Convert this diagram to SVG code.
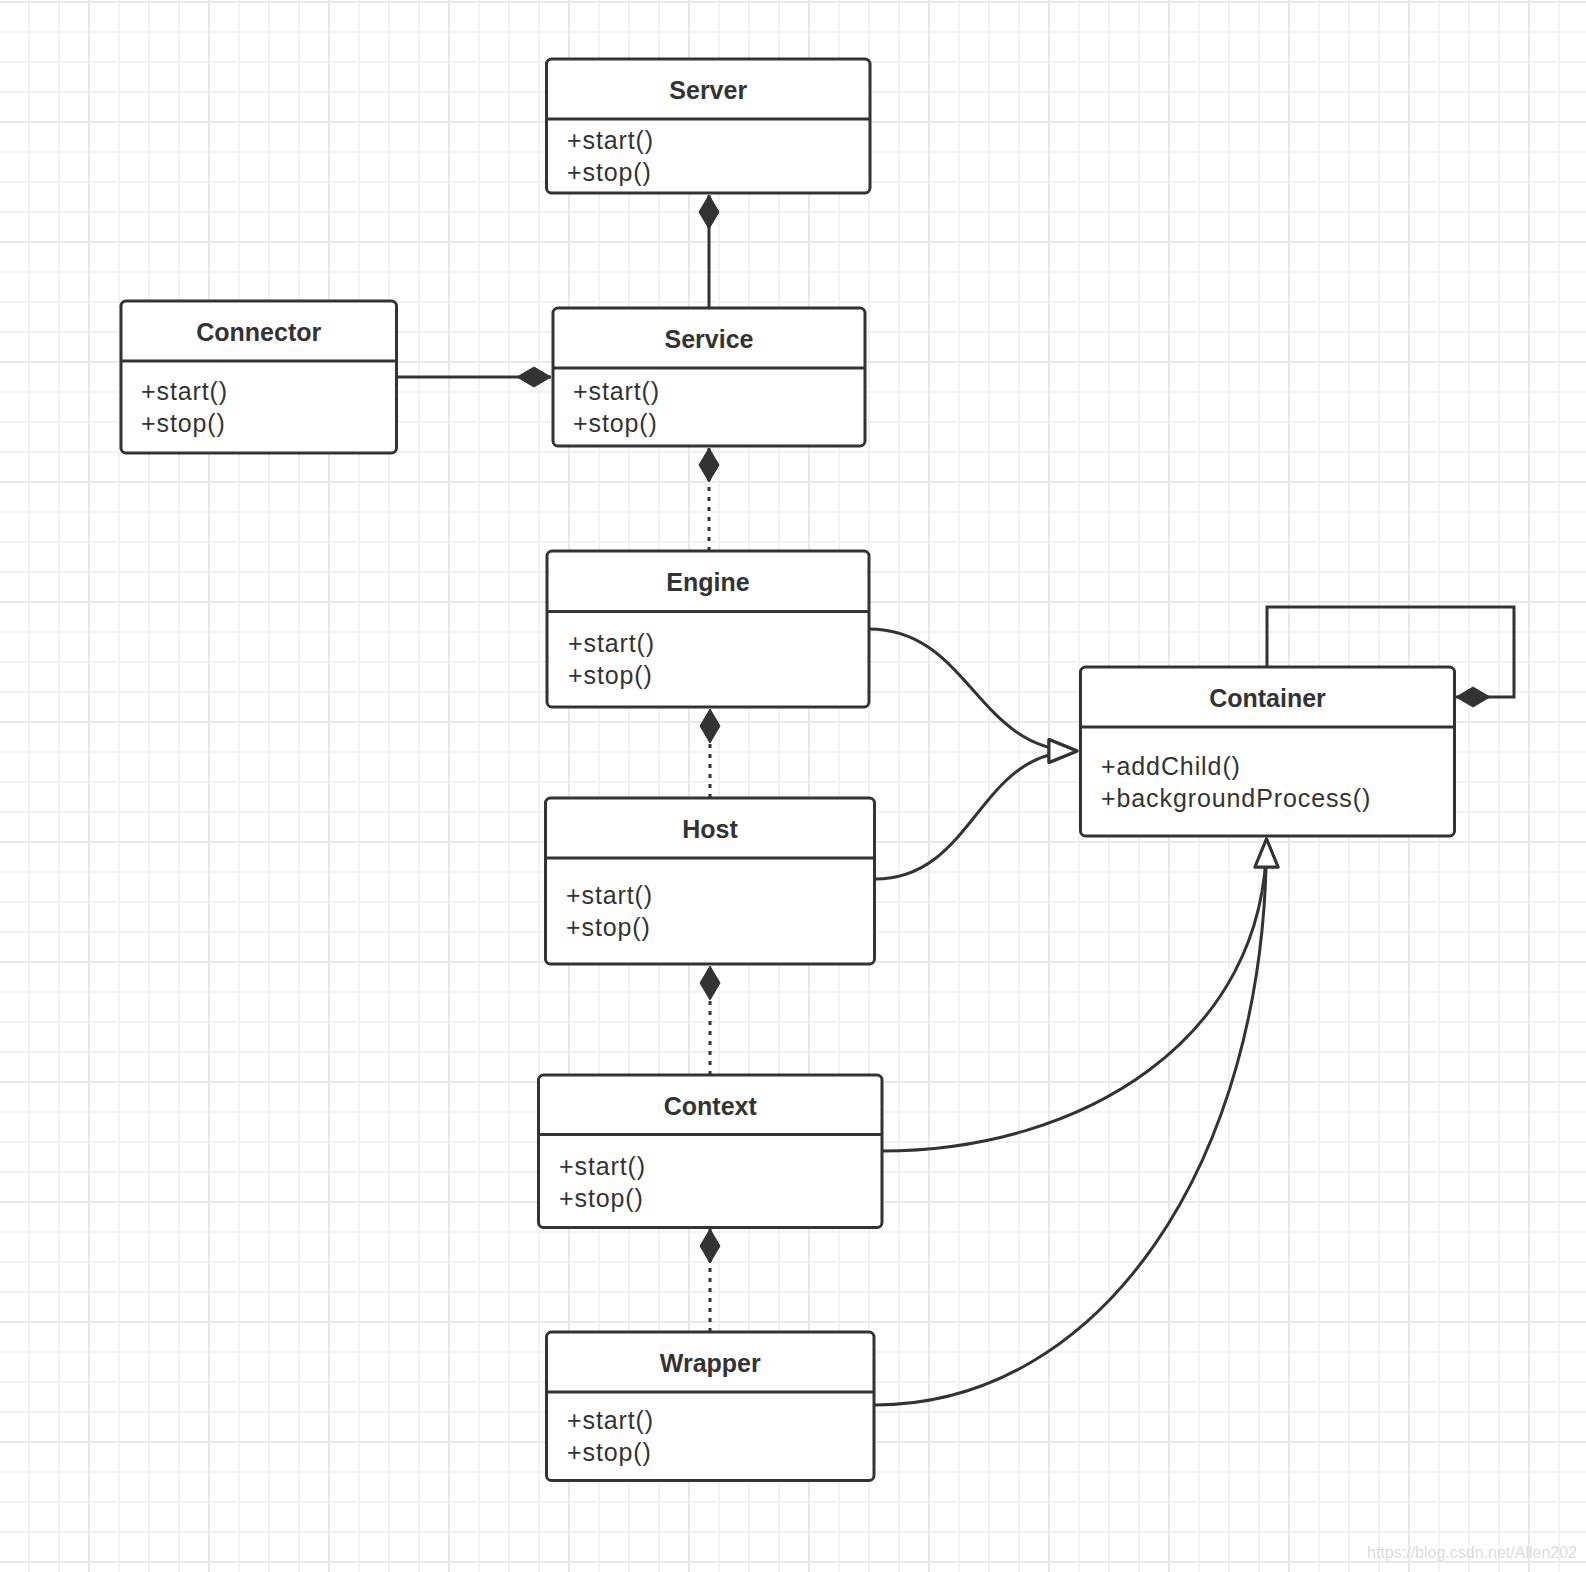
<svg xmlns="http://www.w3.org/2000/svg" width="1586" height="1572" viewBox="0 0 1586 1572">
<style>
.box{fill:#fff;stroke:#333;stroke-width:3}
.div{stroke:#333;stroke-width:3}
.title{font-family:"Liberation Sans",Arial,sans-serif;font-size:25px;font-weight:bold;fill:#333;text-anchor:middle}
.m{font-family:"Liberation Sans",Arial,sans-serif;font-size:25px;fill:#333;letter-spacing:0.9px}
.ln{fill:none;stroke:#333;stroke-width:3}
.dot{stroke-dasharray:4 6}
.comp{marker-end:url(#diamond)}
.gen{marker-end:url(#tri)}
</style>
<defs>
<pattern id="minor" patternUnits="userSpaceOnUse" x="28" y="1" width="30" height="30">
<path d="M1 0V30M0 1H30" stroke="#f2f2f2" stroke-width="2" fill="none"/>
</pattern>
<pattern id="major" patternUnits="userSpaceOnUse" x="88" y="1" width="120" height="120">
<path d="M1 0V120M0 1H120" stroke="#e8e8e8" stroke-width="2" fill="none"/>
</pattern>
<marker id="diamond" markerUnits="userSpaceOnUse" markerWidth="40" markerHeight="26" viewBox="0 -13 40 26" refX="35" refY="0" orient="auto" overflow="visible">
<path d="M1 0L18 -10L35 0L18 10Z" fill="#333" stroke="#333" stroke-width="1" stroke-linejoin="round"/>
</marker>
<marker id="tri" markerUnits="userSpaceOnUse" markerWidth="36" markerHeight="32" viewBox="-3 -16 36 32" refX="28" refY="0" orient="auto" overflow="visible">
<path d="M0 -11.5L28 0L0 11.5Z" fill="#fff" stroke="#333" stroke-width="3" stroke-linejoin="round"/>
</marker>
</defs>
<rect width="1586" height="1572" fill="#fff"/>
<rect width="1586" height="1572" fill="url(#minor)"/>
<rect width="1586" height="1572" fill="url(#major)"/>

<g id="connectors">
<path class="ln comp" d="M709 308V195"/>
<path class="ln comp" d="M397 377H551"/>
<path class="ln dot comp" d="M709 551V448"/>
<path class="ln dot comp" d="M710 798V709"/>
<path class="ln dot comp" d="M710 1075V966"/>
<path class="ln dot comp" d="M710 1332V1229"/>
<path class="ln comp" d="M1267 667V607H1514V697H1456"/>
<path class="ln gen" d="M869 629C969 629 977 751 1077 751"/>
<path class="ln gen" d="M875 879C975 879 977 751 1077 751"/>
<path class="ln gen" d="M882 1151C1082 1151 1266.5 1039 1266.5 839"/>
<path class="ln gen" d="M875 1405C1100 1405 1266.5 1164 1266.5 839"/>
</g>

<g id="server">
<rect class="box" x="546.5" y="59" width="323.5" height="134" rx="5"/>
<line class="div" x1="546.5" y1="119" x2="870" y2="119"/>
<text class="title" x="708.25" y="98.5">Server</text>
<text class="m" x="567" y="149">+start()</text>
<text class="m" x="567" y="181">+stop()</text>
</g>

<g id="service">
<rect class="box" x="553" y="308" width="312" height="138" rx="5"/>
<line class="div" x1="553" y1="368" x2="865" y2="368"/>
<text class="title" x="709" y="347.5">Service</text>
<text class="m" x="573" y="400">+start()</text>
<text class="m" x="573" y="432">+stop()</text>
</g>

<g id="connector">
<rect class="box" x="121" y="301" width="275.5" height="152" rx="5"/>
<line class="div" x1="121" y1="361" x2="396.5" y2="361"/>
<text class="title" x="258.75" y="340.5">Connector</text>
<text class="m" x="141" y="400">+start()</text>
<text class="m" x="141" y="432">+stop()</text>
</g>

<g id="engine">
<rect class="box" x="547" y="551" width="322" height="156" rx="5"/>
<line class="div" x1="547" y1="611.5" x2="869" y2="611.5"/>
<text class="title" x="708" y="590.5">Engine</text>
<text class="m" x="568" y="652">+start()</text>
<text class="m" x="568" y="684">+stop()</text>
</g>

<g id="host">
<rect class="box" x="545.5" y="798" width="329" height="166" rx="5"/>
<line class="div" x1="545.5" y1="858" x2="874.5" y2="858"/>
<text class="title" x="710" y="837.5">Host</text>
<text class="m" x="566" y="904">+start()</text>
<text class="m" x="566" y="936">+stop()</text>
</g>

<g id="context">
<rect class="box" x="538.5" y="1075" width="343.5" height="152.5" rx="5"/>
<line class="div" x1="538.5" y1="1134.5" x2="882" y2="1134.5"/>
<text class="title" x="710.25" y="1114.5">Context</text>
<text class="m" x="559" y="1175">+start()</text>
<text class="m" x="559" y="1207">+stop()</text>
</g>

<g id="wrapper">
<rect class="box" x="546.5" y="1332" width="327.5" height="148.5" rx="5"/>
<line class="div" x1="546.5" y1="1392" x2="874" y2="1392"/>
<text class="title" x="710.25" y="1371.5">Wrapper</text>
<text class="m" x="567" y="1429">+start()</text>
<text class="m" x="567" y="1461">+stop()</text>
</g>

<g id="container">
<rect class="box" x="1080.5" y="667" width="374" height="169" rx="5"/>
<line class="div" x1="1080.5" y1="727" x2="1454.5" y2="727"/>
<text class="title" x="1267.5" y="706.5">Container</text>
<text class="m" x="1101" y="774.5">+addChild()</text>
<text class="m" x="1101" y="806.5">+backgroundProcess()</text>
</g>

<text x="1577" y="1558" font-family="'Liberation Sans',Arial,sans-serif" font-size="16" fill="#dcdcdc" text-anchor="end">https://blog.csdn.net/Allen202</text>
</svg>
